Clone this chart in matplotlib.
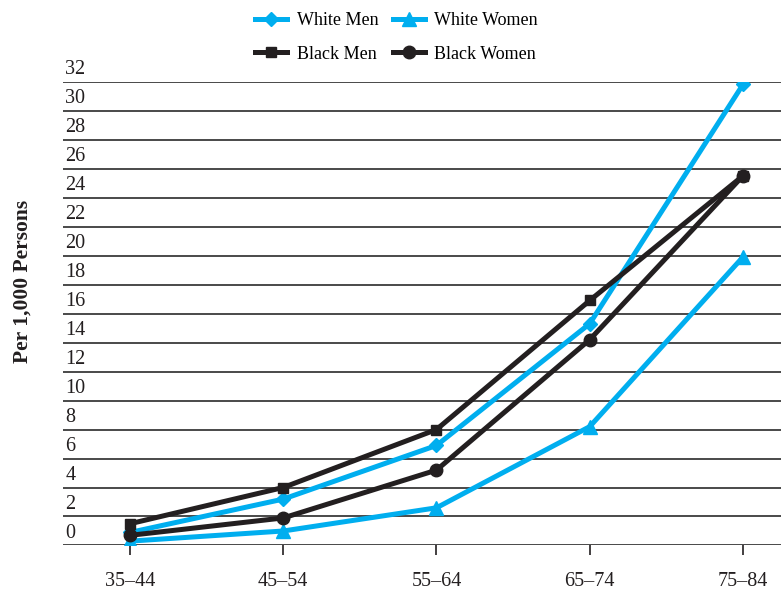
import matplotlib.pyplot as plt
from matplotlib.transforms import blended_transform_factory

# Data
ages = ["35–44", "45–54", "55–64", "65–74", "75–84"]
white_men = [0.9, 3.2, 6.9, 15.3, 31.8]
white_women = [0.3, 1.0, 2.6, 8.2, 19.9]
black_men = [1.5, 4.0, 8.0, 16.9, 25.5]
black_women = [0.7, 1.9, 5.2, 14.2, 25.5]
y_ticks = list(range(0, 33, 2))

blue = '#00AEEF'
dark = '#231F20'

plt.rcParams['font.family'] = ['Liberation Serif', 'DejaVu Serif']

fig = plt.figure(figsize=(7.81, 5.91), dpi=100)
ax = fig.add_axes([0.0807, 0.077, 0.9193, 0.785])

x = list(range(len(ages)))

# horizontal rules with labels sitting on top of them
trans = blended_transform_factory(ax.transAxes, ax.transData)
for v in y_ticks:
    ax.axhline(v, color='#3a3a3a', lw=1.3, zorder=1)
    ax.text(0.003, v + 0.2, str(v), transform=trans, ha='left', va='bottom',
            fontsize=14.5, color=dark)

ax.plot(x, white_women, color=blue, lw=3.6, marker='^', ms=10, label='White Women', zorder=3)
ax.plot(x, white_men, color=blue, lw=3.6, marker='D', ms=7, label='White Men', zorder=3)
ax.plot(x, black_men, color=dark, lw=3.6, marker='s', ms=7, label='Black Men', zorder=3)
ax.plot(x, black_women, color=dark, lw=3.6, marker='o', ms=9, label='Black Women', zorder=3)

ax.set_xlim(-0.437, 4.248)
ax.set_ylim(0, 32)
ax.set_xticks(x)
ax.set_xticklabels(ages, fontsize=14.5, color=dark)
ax.set_yticks([])
ax.tick_params(axis='x', length=7, width=1.2, color=dark, pad=12)
for s in ax.spines.values():
    s.set_visible(False)

fig.text(0.029, 0.524, 'Per 1,000 Persons', rotation=90, ha='center', va='center',
         fontsize=15.5, fontweight='bold', color=dark)

h, l = ax.get_legend_handles_labels()
order = [1, 2, 0, 3]
fig.legend([h[i] for i in order], [l[i] for i in order], ncol=2,
           loc='upper left', bbox_to_anchor=(0.3265, 0.979), frameon=False,
           fontsize=13, borderpad=0, borderaxespad=0, handlelength=1.8,
           handletextpad=0.5, columnspacing=0.8, labelspacing=0.9)

plt.savefig('out.png', dpi=100)
